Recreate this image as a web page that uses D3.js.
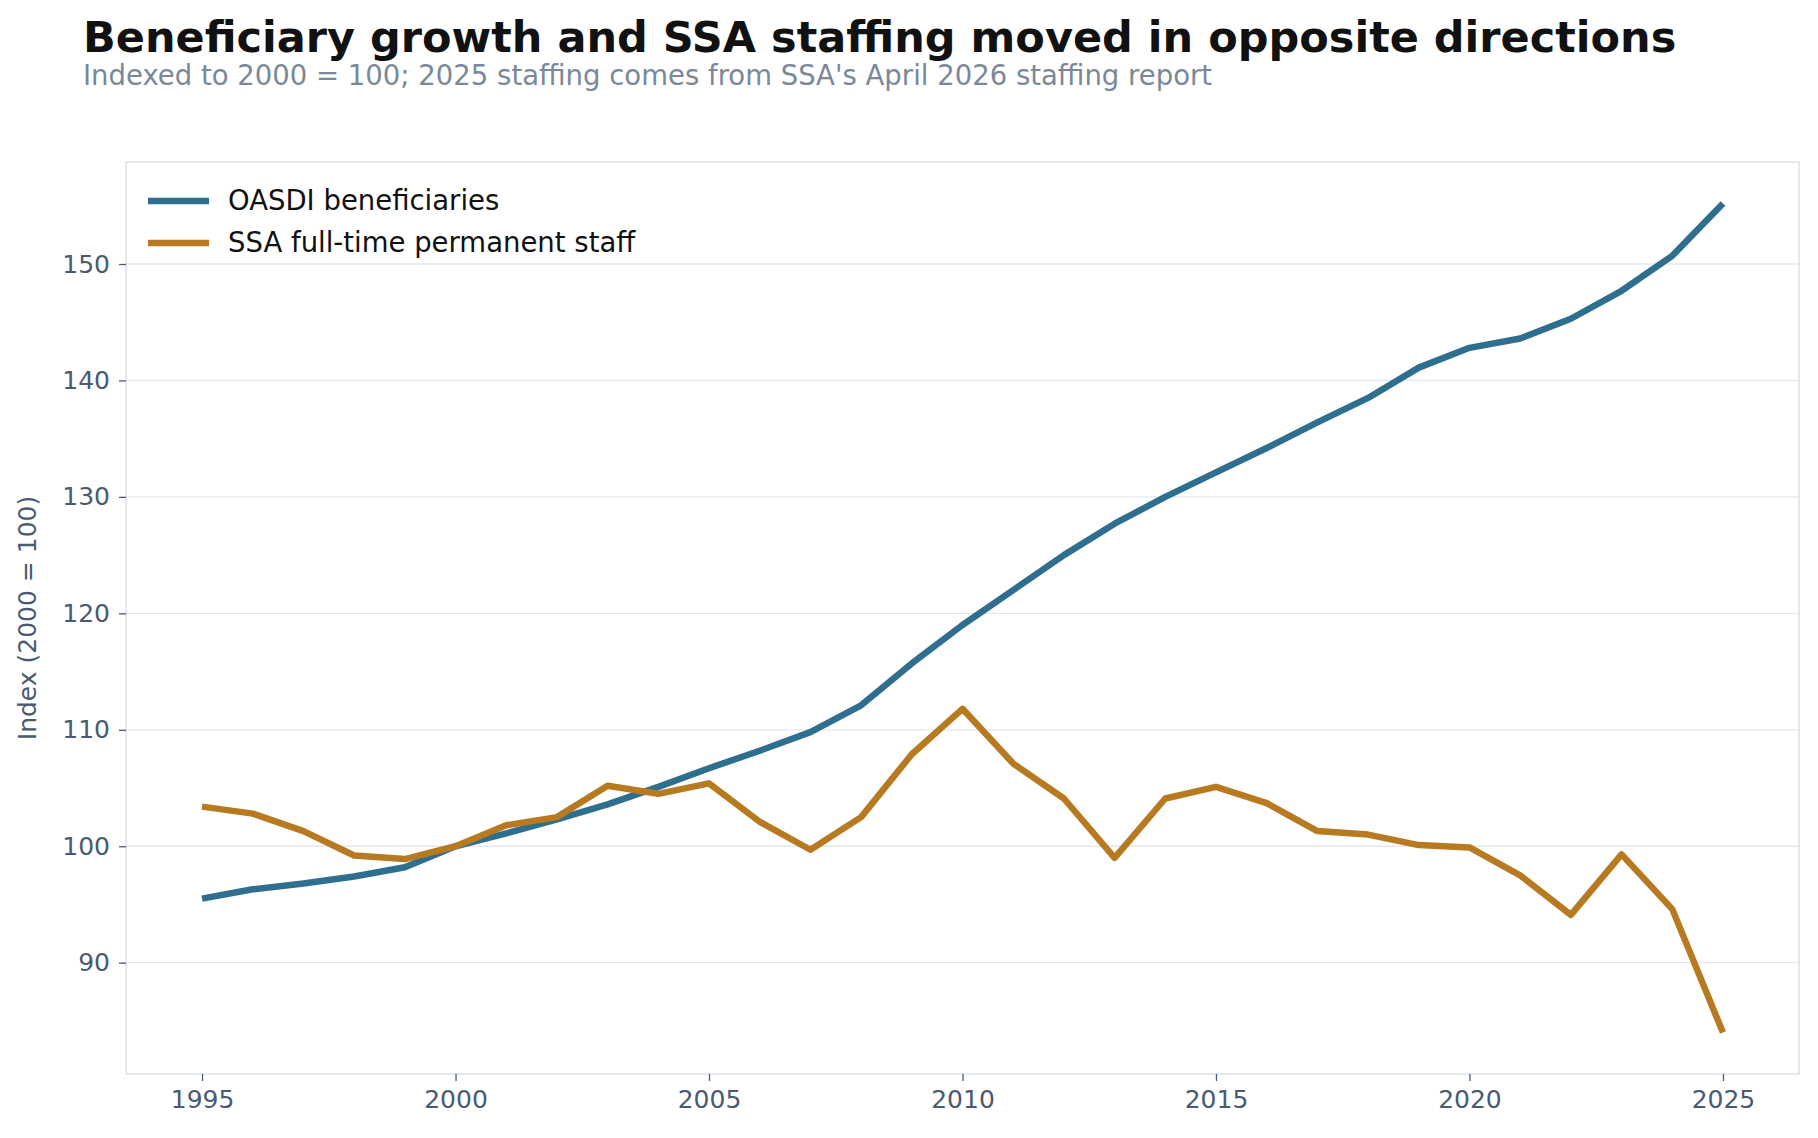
<!DOCTYPE html><html><head><meta charset="utf-8"><script src="https://cdn.jsdelivr.net/npm/d3@7"></script>
<style>body{margin:0;background:#fff}svg{display:block}</style></head><body><svg id="c" width="1818" height="1138"></svg>
<script>
const years=d3.range(1995,2026);
const beneficiaries=[95.5,96.3,96.8,97.4,98.2,100,101.1,102.3,103.6,105.1,106.7,108.2,109.8,112.1,115.7,119,122,125,127.7,130,132.1,134.2,136.4,138.5,141.1,142.8,143.6,145.3,147.7,150.7,155.2];
const staff=[103.4,102.8,101.3,99.2,98.9,100,101.8,102.5,105.2,104.5,105.4,102.1,99.7,102.5,107.9,111.8,107.1,104.1,99,104.1,105.1,103.7,101.3,101,100.1,99.9,97.5,94.1,99.3,94.6,84];
const xTicks=[1995,2000,2005,2010,2015,2020,2025];
const yTicks=[90,100,110,120,130,140,150];
const seriesNames=["OASDI beneficiaries","SSA full-time permanent staff"];
const colors=["#2e6e8e","#b87a21"];
const svg=d3.select("#c");
const L=126,T=162,R=1799,B=1074;
const x=d3.scaleLinear().domain([1993.5,2026.5]).range([L,R]);
const y=d3.scaleLinear().domain([80.44,158.76]).range([B,T]);
svg.append("g").selectAll("line").data(yTicks).join("line").attr("x1",L).attr("x2",R).attr("y1",d=>y(d)).attr("y2",d=>y(d)).attr("stroke","#e3e8ee").attr("stroke-width",1.3);
svg.append("rect").attr("x",L).attr("y",T).attr("width",R-L).attr("height",B-T).attr("fill","none").attr("stroke","#d5dbe5").attr("stroke-width",1.3);
const xa=svg.append("g").attr("transform",`translate(0,${B})`).call(d3.axisBottom(x).tickValues(xTicks).tickFormat(d3.format("d")).tickSize(7).tickPadding(9));
const ya=svg.append("g").attr("transform",`translate(${L},0)`).call(d3.axisLeft(y).tickValues(yTicks).tickSize(7).tickPadding(9));
[xa,ya].forEach(a=>{a.select(".domain").remove();a.selectAll("line").attr("stroke","#4a5a70").attr("stroke-width",1.3);a.selectAll("text").attr("fill","#4a5a70").attr("font-family","DejaVu Sans").attr("font-size",25);});
svg.append("text").attr("transform",`translate(36,${(T+B)/2}) rotate(-90)`).attr("text-anchor","middle").attr("fill","#4a5a70").attr("font-family","DejaVu Sans").attr("font-size",25).text("Index (2000 = 100)");
const line=d3.line().x((d,i)=>x(years[i])).y(d=>y(d));
[beneficiaries,staff].forEach((s,k)=>svg.append("path").datum(s).attr("d",line).attr("fill","none").attr("stroke",colors[k]).attr("stroke-width",6.5).attr("stroke-linejoin","round"));
seriesNames.forEach((n,k)=>{const yy=201+k*42;
svg.append("line").attr("x1",148).attr("x2",209).attr("y1",yy).attr("y2",yy).attr("stroke",colors[k]).attr("stroke-width",6.5);
svg.append("text").attr("x",228).attr("y",yy+9).attr("font-family","DejaVu Sans").attr("font-size",27.5).attr("fill","#111").text(n);});
svg.append("text").attr("x",83).attr("y",52).attr("font-family","DejaVu Sans").attr("font-weight","bold").attr("font-size",43).attr("fill","#111").text("Beneficiary growth and SSA staffing moved in opposite directions");
svg.append("text").attr("x",83).attr("y",85).attr("font-family","DejaVu Sans").attr("font-size",27.5).attr("fill","#7a8899").text("Indexed to 2000 = 100; 2025 staffing comes from SSA's April 2026 staffing report");
</script></body></html>
